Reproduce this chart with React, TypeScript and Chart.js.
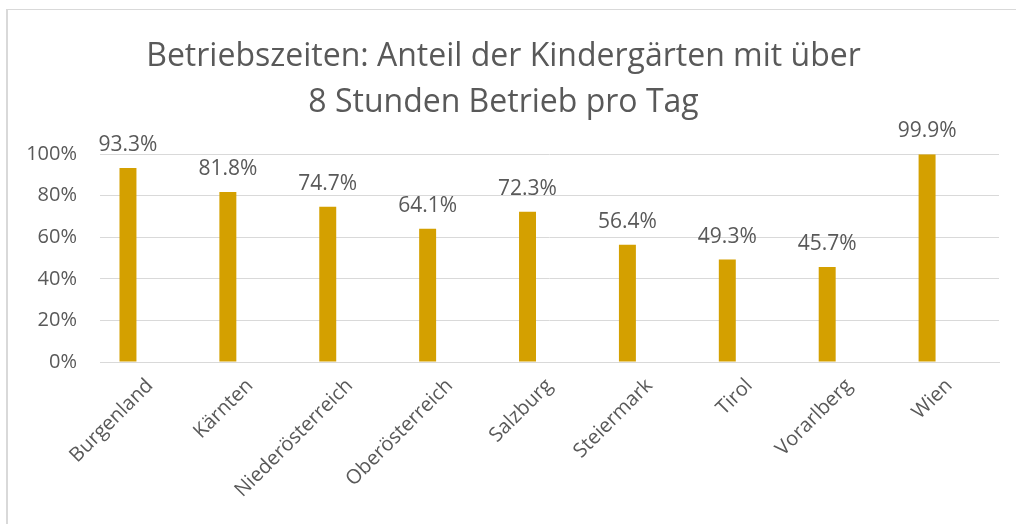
import React, { useEffect, useRef } from "react";
import { Chart, registerables } from "chart.js";

Chart.register(...registerables);

const categories = [
  "Burgenland",
  "Kärnten",
  "Niederösterreich",
  "Oberösterreich",
  "Salzburg",
  "Steiermark",
  "Tirol",
  "Vorarlberg",
  "Wien",
];
const shareValues = [93.3, 81.8, 74.7, 64.1, 72.3, 56.4, 49.3, 45.7, 99.9];
const emptySeries = [null, null, null, null, null, null, null, null, null];
const titleLines = ["Betriebszeiten: Anteil der Kindergärten mit über", "8 Stunden Betrieb pro Tag"];
const yTicks = [0, 20, 40, 60, 80, 100];

const TEXT = "#595959";
const GRID = "#d9d9d9";
const BAR = "#d4a000";
const FONT = "'Open Sans', sans-serif";

const dataLabels = {
  id: "dataLabels",
  afterDatasetsDraw(chart: any) {
    const meta = chart.getDatasetMeta(0);
    const ctx = chart.ctx;
    ctx.save();
    ctx.fillStyle = TEXT;
    ctx.font = `21px ${FONT}`;
    ctx.textAlign = "center";
    ctx.textBaseline = "alphabetic";
    meta.data.forEach((el: any, i: number) => {
      const v = shareValues[i];
      ctx.fillText(v.toFixed(1) + "%", el.x, el.y - 17);
    });
    ctx.restore();
  },
};

export default function App() {
  const ref = useRef<HTMLCanvasElement | null>(null);
  useEffect(() => {
    if (!ref.current) return;
    const chart = new Chart(ref.current, {
      type: "bar",
      data: {
        labels: categories,
        datasets: [
          {
            label: "Anteil",
            data: shareValues,
            backgroundColor: BAR,
            categoryPercentage: 0.88,
            barPercentage: 0.386,
          },
          {
            label: "",
            data: emptySeries,
            backgroundColor: BAR,
            categoryPercentage: 0.88,
            barPercentage: 0.386,
          },
        ],
      },
      options: {
        animation: false,
        responsive: true,
        maintainAspectRatio: false,
        layout: { padding: { left: 0, right: 11, top: 0, bottom: 0 } },
        plugins: {
          legend: { display: false },
          tooltip: { enabled: false },
          title: {
            display: true,
            text: titleLines,
            color: TEXT,
            font: { family: FONT, size: 32, weight: "normal", lineHeight: 1.44 },
            padding: { top: 24, bottom: 28 },
          },
        },
        scales: {
          x: {
            grid: { display: false, drawTicks: false },
            border: { display: true, color: GRID, width: 1 },
            ticks: {
              color: TEXT,
              font: { family: FONT, size: 20 },
              minRotation: 45,
              maxRotation: 45,
              autoSkip: false,
              padding: 12,
            },
            afterFit(scale: any) {
              scale.height = 162;
            },
          },
          y: {
            min: 0,
            max: 100,
            afterBuildTicks(scale: any) {
              scale.ticks = yTicks.map((v) => ({ value: v }));
            },
            grid: { color: GRID, lineWidth: 1, drawTicks: false },
            border: { display: false },
            ticks: {
              color: TEXT,
              font: { family: FONT, size: 20 },
              padding: 23,
              callback: (v: any) => v + "%",
            },
            afterFit(scale: any) {
              scale.width = 92;
            },
          },
        },
      },
      plugins: [dataLabels],
    });
    return () => chart.destroy();
  }, []);

  return (
    <div
      style={{
        position: "absolute",
        left: 6,
        top: 9,
        width: 1010,
        height: 515,
        borderLeft: `2px solid ${GRID}`,
        borderTop: `1px solid ${GRID}`,
        background: "#fff",
        boxSizing: "border-box",
      }}
    >
      <div style={{ position: "absolute", left: 0, top: 0, width: 1002, height: 514 }}>
        <canvas ref={ref} />
      </div>
    </div>
  );
}
